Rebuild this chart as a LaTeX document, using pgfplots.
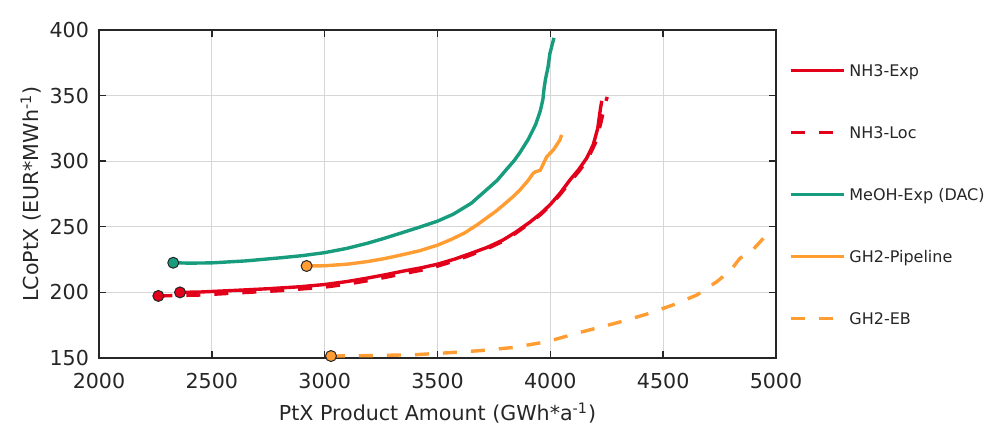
\documentclass[border=0pt]{standalone}
\usepackage{fontspec}
\setmainfont{DejaVu Sans}
\usepackage{pgfplots}
\pgfplotsset{compat=1.18}
\definecolor{cred}{RGB}{226,0,26}
\definecolor{cgreen}{RGB}{23,156,125}
\definecolor{corange}{RGB}{255,157,51}
\definecolor{axc}{RGB}{38,38,38}
\definecolor{gridc}{RGB}{214,214,214}
\begin{document}
\begin{tikzpicture}
\path[use as bounding box] (-49.5pt,-34pt) rectangle (442.5pt,179pt);
\begin{axis}[
  at={(0,0)}, anchor=south west,
  width=338.5pt, height=164pt, scale only axis,
  xmin=2000, xmax=5000, ymin=150, ymax=400,
  xtick={2000,2500,...,5000}, ytick={150,200,...,400},
  grid=major, major grid style={gridc, line width=0.5pt},
  axis line style={axc, line width=0.7pt},
  tick style={axc, line width=0.7pt}, major tick length=3.5pt,
  tick align=inside,
  /pgf/number format/assume math mode=true,
  /pgf/number format/1000 sep={},
  ticklabel style={font=\fontsize{10.3}{12}\selectfont, text=axc},
  xticklabel style={yshift=-4pt},
  yticklabel style={xshift=-1.5pt},
  label style={font=\fontsize{10.3}{12}\selectfont, text=axc},
  xlabel={PtX Product Amount (GWh*a\textsuperscript{-1})},
  ylabel={LCoPtX (EUR*MWh\textsuperscript{-1})},
  xlabel style={at={(axis description cs:0.5,-0.192)}, anchor=base},
  ylabel style={at={(axis description cs:-0.0894,0.5)}, anchor=base},
  legend style={draw=none, fill=none, at={(axis description cs:1.0192,0.8963)}, anchor=north west,
    inner sep=0pt, row sep=25pt, column sep=2pt, font=\fontsize{8}{9.6}\selectfont,
    nodes={inner sep=0pt, text height=6pt, text depth=0pt, text=axc}},
  legend cell align=left,
  legend image code/.code={\draw[#1] (0pt,0pt) -- (26.3pt,0pt);},
  every axis plot/.append style={line width=1.7pt, line join=round},
]
% NH3-Exp
\addplot[cred, solid, no markers] coordinates {
(2359,200) (2450,200.3) (2600,201.5) (2750,202.8) (2890,204.3) (3000,206) (3100,208.3) (3186,210.8)
(3270,213.5) (3350,216.3) (3430,218.8) (3500,221.5) (3575,225.3) (3644,229.5) (3720,234.3) (3791,240)
(3850,246.3) (3909,253.5) (3960,260.5) (4000,267) (4045,276) (4087,285.7) (4125,293.5) (4161,302.3)
(4190,312.5) (4210,325) (4222,340) (4228,346)};
\addlegendentry{NH3-Exp}
% NH3-Loc
\addplot[cred, dash pattern=on 7pt off 7pt, line cap=butt, no markers] coordinates {
(2263,197.3) (2320,197.5) (2450,198) (2600,199.5) (2800,201.3) (3000,204) (3100,206.3) (3186,208.8)
(3270,211.5) (3350,214.3) (3430,217) (3500,220) (3575,224) (3644,228.3) (3720,233.3) (3791,239)
(3850,245.5) (3909,252.8) (3960,259.8) (4000,266.3) (4045,275) (4087,284) (4125,292) (4161,300)
(4200,314) (4225,330) (4240,342) (4252,349)};
\addlegendentry{NH3-Loc}
% MeOH-Exp (DAC)
\addplot[cgreen, solid, no markers] coordinates {
(2329,222.6) (2400,222.3) (2500,222.5) (2650,224) (2800,226.3) (2900,228) (3000,230.3) (3100,233.6)
(3186,237.3) (3260,241) (3334,245) (3422,249.8) (3500,254.3) (3570,259.6) (3650,268) (3718,278.3)
(3765,285.5) (3806,293.8) (3840,300.5) (3865,306.5) (3902,316.6) (3935,328) (3955,338) (3967,347)
(3972,355) (3978,362) (3990,372) (3998,382) (4010,390) (4016,394)};
\addlegendentry{MeOH-Exp (DAC)}
% GH2-Pipeline
\addplot[corange, solid, no markers] coordinates {
(2920,220.1) (3000,220.3) (3100,221.5) (3186,223.4) (3260,225.6) (3334,228.3) (3422,231.8) (3500,236)
(3560,240.3) (3620,245.3) (3680,252) (3718,256.8) (3760,262) (3800,267.8) (3835,273) (3865,278)
(3900,285) (3924,290.8) (3935,292) (3955,293) (3984,303.4) (4013,308.5) (4042,316) (4050,320)};
\addlegendentry{GH2-Pipeline}
% GH2-EB
\addplot[corange, dash pattern=on 7pt off 7pt, line cap=butt, no markers] coordinates {
(3028,151.5) (3200,151.8) (3400,152.5) (3550,154) (3688,155.6) (3834,158) (3985,162.4) (4131,169.5)
(4277,176) (4350,179.5) (4428,183.5) (4543,190.4) (4649,198) (4738,208.2) (4800,217) (4840,226)
(4860,228) (4900,233) (4951,242.5) (4975,247)};
\addlegendentry{GH2-EB}
% start markers
\addplot[forget plot, only marks, mark=*, mark size=2.75pt, mark options={fill=cred, draw=axc, line width=0.5pt, solid}]
  coordinates {(2263,197.3) (2359,200)};
\addplot[forget plot, only marks, mark=*, mark size=2.75pt, mark options={fill=cgreen, draw=axc, line width=0.5pt, solid}]
  coordinates {(2329,222.6)};
\addplot[forget plot, only marks, mark=*, mark size=2.75pt, mark options={fill=corange, draw=axc, line width=0.5pt, solid}]
  coordinates {(2920,220.1) (3028,151.5)};
\end{axis}
\end{tikzpicture}
\end{document}
